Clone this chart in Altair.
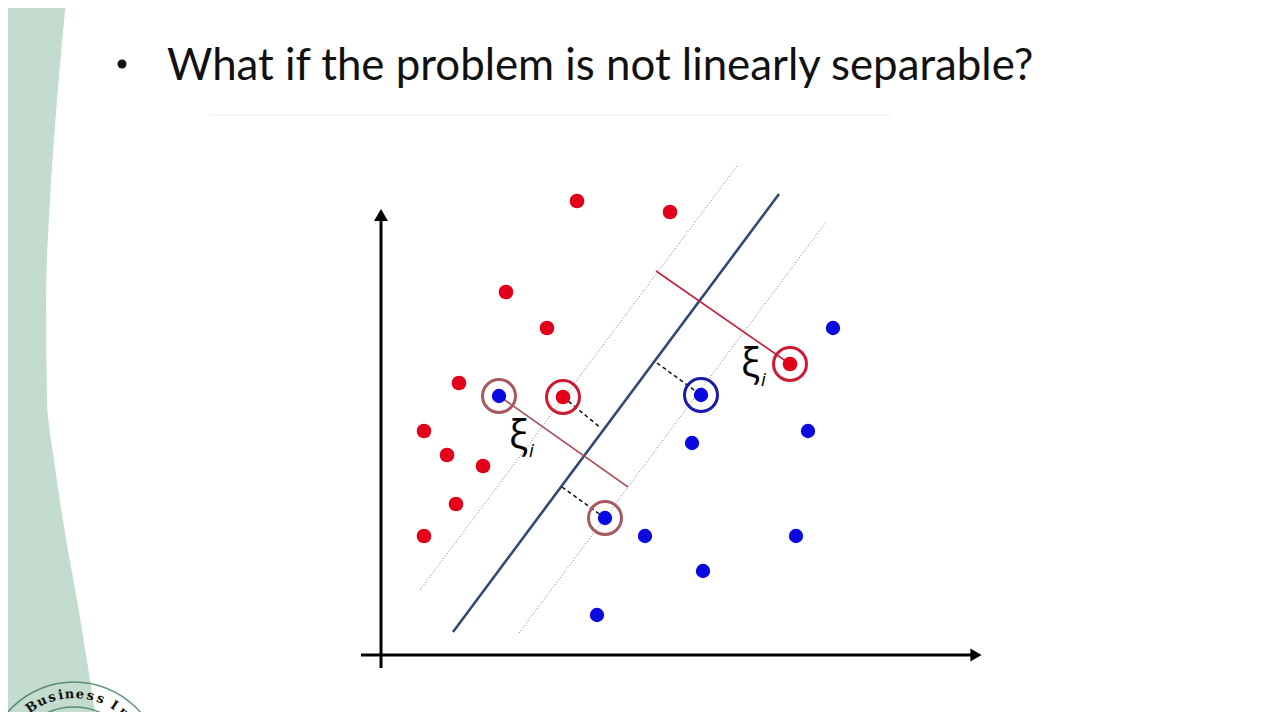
import altair as alt
import pandas as pd
import numpy as np

# ---- diagram data (units: pixels from the axes origin, y up) ----
red_x = [196, 289, 125, 166, 78, 43, 66, 102, 75, 43, 182, 409]
red_y = [454, 443, 363, 327, 272, 224, 200, 189, 151, 119, 258, 291]
blue_x = [118, 320, 224, 452, 427, 311, 264, 415, 322, 216]
blue_y = [259, 260, 137, 327, 224, 212, 119, 119, 84, 40]

ring_red_x = [182, 409]
ring_red_y = [258, 291]
ring_brown_x = [118, 224]
ring_brown_y = [259, 137]
ring_blue_x = [320]
ring_blue_y = [260]

# separating line and margins
main_line = [(72, 23, 398, 461)]
margin_lines = [(39, 65, 356, 489), (138, 22, 445, 433)]
slack_red = [(275, 384, 409, 291)]
slack_brown = [(118, 259, 247, 168)]
dashed_lines = [(182, 258, 220, 227), (276, 292, 320, 260), (181, 168, 224, 137)]
axis_lines = [(0, -13, 0, 436), (-20, 0, 590, 0)]
arrow_up = [(0, 440)]
arrow_right = [(595, 0)]

# green band boundary (y, x)
band_y = [665, 555, 455, 355, 255, 188, 122, 55, -12, -70]
band_x = [-314, -324, -331, -335, -334, -326, -316, -304, -293, -284]

# logo
logo_letters = ["t", "B", "u", "s", "i", "n", "e", "s", "s", "I", "n"]
logo_angles = [-45, -34, -25, -17, -10, -3.5, 4.5, 12.5, 20.5, 32, 41]

title = "What if the problem is not linearly separable?"

X = alt.Scale(domain=[-373, 891], nice=False, zero=False)
Y = alt.Scale(domain=[-57, 647], nice=False, zero=False)


def xy():
    return dict(x=alt.X("x:Q", scale=X, axis=None), y=alt.Y("y:Q", scale=Y, axis=None))


def seg_df(segs):
    return pd.DataFrame(segs, columns=["x", "y", "x2", "y2"])


def rules(segs, **kw):
    return alt.Chart(seg_df(segs)).mark_rule(**kw).encode(**xy(), x2="x2:Q", y2="y2:Q")


def dots(xs, ys, **kw):
    return alt.Chart(pd.DataFrame({"x": xs, "y": ys})).mark_point(**kw).encode(**xy())


band_df = pd.DataFrame({"y": band_y, "x": band_x, "x0": [-400] * len(band_y)})
band = alt.Chart(band_df).mark_area(
    orient="horizontal", color="#c3dccf", interpolate="monotone", clip=True
).encode(**xy(), x2="x0:Q")

# logo
cx, cy, r = -307, -115, 76
ang = np.radians(logo_angles)
logo_df = pd.DataFrame({
    "t": logo_letters,
    "a": logo_angles,
    "x": cx + r * np.sin(ang),
    "y": cy + r * np.cos(ang),
})
logo_text = alt.Chart(logo_df).mark_text(
    font="DejaVu Serif", fontWeight="bold", fontSize=13, color="#111111",
    baseline="middle", align="center", clip=True
).encode(**xy(), text="t:N", angle=alt.Angle("a:Q", scale=None))
logo_circ_df = pd.DataFrame({"x": [cx, cx], "y": [cy, cy], "s": [4 * 88 ** 2, 4 * 63 ** 2]})
logo_circ = alt.Chart(logo_circ_df).mark_point(
    shape="circle", filled=False, color="#2f6a4c", strokeWidth=1.6, clip=True
).encode(**xy(), size=alt.Size("s:Q", scale=None))
logo_red = dots([cx - 6], [cy + 35], shape="circle", filled=False, color="#8a1c3a",
                strokeWidth=3, size=4 * 11 ** 2, clip=True)

# title
title_df = pd.DataFrame({"x": [-214], "y": [575], "t": [title]})
title_text = alt.Chart(title_df).mark_text(
    font="Lato", fontSize=43.8, color="#111111", align="left", baseline="alphabetic"
).encode(**xy(), text="t:N")
bullet = dots([-259], [591], shape="circle", filled=True, color="#111111", size=4 * 4.5 ** 2, opacity=1)
underline = rules([(-171, 540, 509, 540)], color="#f5f5f5", strokeWidth=2)

# axes
axes = rules(axis_lines, color="#000000", strokeWidth=3)
arr_u = dots([a[0] for a in arrow_up], [a[1] for a in arrow_up],
             shape="triangle-up", filled=True, color="#000000", size=196, opacity=1)
arr_r = dots([a[0] for a in arrow_right], [a[1] for a in arrow_right],
             shape="triangle-right", filled=True, color="#000000", size=169, opacity=1)

main = rules(main_line, color="#2e4a72", strokeWidth=2.6)
margins = rules(margin_lines, color="#777777", strokeWidth=1, strokeDash=[1, 2])
slack1 = rules(slack_red, color="#c2203f", strokeWidth=1.6)
slack2 = rules(slack_brown, color="#a9545e", strokeWidth=1.6)
dashed = rules(dashed_lines, color="#111111", strokeWidth=1.5, strokeDash=[4, 3])

red_pts = dots(red_x, red_y, shape="circle", filled=True, color="#e3001b", size=215, opacity=1)
blue_pts = dots(blue_x, blue_y, shape="circle", filled=True, color="#0a0ae0", size=205, opacity=1)

ring_kw = dict(shape="circle", filled=False, size=4 * 16.5 ** 2, strokeWidth=3, opacity=1)
ring_r = dots(ring_red_x, ring_red_y, color="#cc1c33", **ring_kw)
ring_b = dots(ring_brown_x, ring_brown_y, color="#a65a60", **ring_kw)
ring_u = dots(ring_blue_x, ring_blue_y, color="#1a1aaa", **ring_kw)

xi_df = pd.DataFrame({"x": [128, 360], "y": [206, 278], "t": ["ξ", "ξ"]})
xi = alt.Chart(xi_df).mark_text(font="Open Sans", fontSize=40, color="#000000",
                                align="left", baseline="alphabetic").encode(**xy(), text="t:N")
sub_df = pd.DataFrame({"x": [148, 380], "y": [198, 269], "t": ["i", "i"]})
sub = alt.Chart(sub_df).mark_text(font="Open Sans", fontSize=19, fontStyle="italic", color="#000000",
                                  align="left", baseline="alphabetic").encode(**xy(), text="t:N")

chart = alt.layer(
    band, logo_circ, logo_red, logo_text, underline, bullet, title_text,
    margins, main, slack1, slack2, dashed, axes, arr_u, arr_r,
    red_pts, blue_pts, ring_r, ring_b, ring_u, xi, sub,
).properties(
    width=1264, height=704, padding=0, background="#ffffff",
    autosize=alt.AutoSizeParams(type="none"),
).configure_view(stroke=None)

chart.save("out.html", embed_options={"renderer": "svg", "actions": False})
